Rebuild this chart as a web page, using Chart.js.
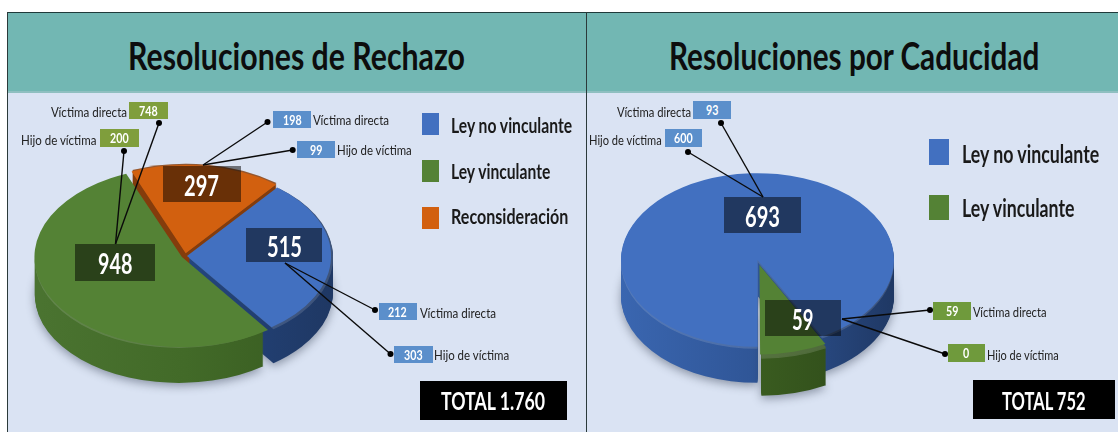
<!DOCTYPE html>
<html lang="es">
<head>
<meta charset="utf-8">
<script src="https://cdn.jsdelivr.net/npm/chart.js@4"></script>
<style>
html,body{margin:0;padding:0;background:#fff;width:1118px;height:432px;overflow:hidden}
#stage{position:relative;width:1118px;height:432px;overflow:hidden}
.abs{position:absolute}
.t{position:absolute;white-space:nowrap;transform-origin:0 50%;font-family:Lato,sans-serif}
canvas{display:block}
</style>
</head>
<body>
<div id="stage"></div>
<script>
// ---- data ----
const rechazoTitle = "Resoluciones de Rechazo";
const caducidadTitle = "Resoluciones por Caducidad";
const rechazoLabels = ["Reconsideración", "Ley no vinculante", "Ley vinculante"];
const rechazoValues = [297, 515, 948];
const rechazoVictima = [198, 212, 748];
const rechazoHijo = [99, 303, 200];
const rechazoTotal = "TOTAL 1.760";
const caducidadLabels = ["Ley no vinculante", "Ley vinculante"];
const caducidadValues = [693, 59];
const caducidadVictima = [93, 59];
const caducidadHijo = [600, 0];
const caducidadTotal = "TOTAL 752";
const victimaText = "Víctima directa";
const hijoText = "Hijo de víctima";

// ---- styles ----
const BLUE = "#4270c0", GREEN = "#548235", ORANGE = "#d2600f";
const LBLUE = "#5b8fcb", OLIVE = "#7f9e3c";
const stage = document.getElementById("stage");
const mc = document.createElement("canvas").getContext("2d");

function rect(x, y, w, h, bg, z) {
  const d = document.createElement("div");
  d.className = "abs";
  d.style.cssText = `left:${x}px;top:${y}px;width:${w}px;height:${h}px;background:${bg};z-index:${z||1}`;
  stage.appendChild(d);
  return d;
}
// text fitted horizontally between x0 and x1, centred vertically on cy
function text(str, x0, x1, cy, size, weight, color) {
  const d = document.createElement("div");
  d.className = "t";
  d.textContent = str;
  const font = `${weight} ${size}px Lato, sans-serif`;
  mc.font = font;
  const m = mc.measureText(str).width;
  const lh = Math.round(size * 1.2);
  d.style.cssText = `left:${x0}px;top:${cy - lh / 2}px;font:${font};line-height:${lh}px;color:${color};z-index:6;transform:scaleX(${((x1 - x0) / m).toFixed(3)})`;
  stage.appendChild(d);
}
function numBox(v, x0, x1, y0, y1, bg, size, tx0, tx1) {
  rect(x0, y0, x1 - x0, y1 - y0, bg, 5);
  const s = String(v);
  const w = tx1 !== undefined ? tx1 - tx0 : 6.2 * s.length;
  const a = tx0 !== undefined ? tx0 : (x0 + x1 - w) / 2;
  text(s, a, a + w, (y0 + y1) / 2, size, 700, "#fff");
}

// ---- panels ----
rect(7, 12, 1111, 420, "#dae3f3", 0);
rect(7, 12, 1111, 80, "#72b7b3", 0);
rect(7, 91, 1111, 2, "#8fbfc0", 0);
rect(7, 12, 1111, 1, "#1f3a3a", 2);
rect(7, 12, 1, 420, "#2b3a3a", 2);
rect(586, 12, 1, 420, "#2b3a3a", 2);

// ---- pie plugin: extrudes the chart's own arc elements and flattens them ----
function shade(chart, el, depth, k, cols) {
  const ctx = chart.ctx, o = (el.options.offset || 0) / 2;
  const mid = (el.startAngle + el.endAngle) / 2;
  const cx = el.x + Math.cos(mid) * o, cy = el.y + Math.sin(mid) * o, r = el.outerRadius;
  const g = ctx.createLinearGradient(el.x - r, 0, el.x + r, 0);
  cols.forEach((c, i) => g.addColorStop(i / (cols.length - 1), c));
  for (let d = depth; d >= 1; d--) {
    ctx.save();
    ctx.translate(0, d);
    ctx.translate(0, el.y);
    ctx.scale(1, k);
    ctx.translate(0, -el.y);
    ctx.beginPath();
    ctx.moveTo(cx, cy);
    ctx.arc(cx, cy, r, el.startAngle, el.endAngle);
    ctx.closePath();
    ctx.fillStyle = g;
    if (d === depth) { ctx.shadowColor = "rgba(40,50,70,.45)"; ctx.shadowBlur = 10; ctx.shadowOffsetY = 3; }
    ctx.fill();
    if (d <= 2) { ctx.fillStyle = "rgba(255,255,255,.14)"; ctx.fill(); }
    ctx.restore();
  }
}
const pie3d = {
  id: "pie3d",
  beforeDatasetsDraw(chart, args, opts) {
    const ctx = chart.ctx, arcs = chart.getDatasetMeta(0).data;
    arcs.forEach((el, i) => shade(chart, el, opts.depths[i], opts.k, opts.sides[i]));
    ctx.save();
    const y = arcs[0].y;
    ctx.translate(0, y);
    ctx.scale(1, opts.k);
    ctx.translate(0, -y);
  },
  afterDatasetsDraw(chart) { chart.ctx.restore(); },
  afterDraw(chart, args, opts) {
    const ctx = chart.ctx;
    ctx.save();
    ctx.translate(-opts.ox, -opts.oy);
    ctx.strokeStyle = "#0a0a0a";
    ctx.fillStyle = "#000";
    ctx.lineWidth = 1.4;
    opts.leaders.forEach(([a, b, c, d]) => {
      ctx.beginPath(); ctx.moveTo(a, b); ctx.lineTo(c, d); ctx.stroke();
      ctx.beginPath(); ctx.arc(a, b, 3, 0, Math.PI * 2); ctx.fill();
    });
    ctx.restore();
  }
};

function pie(x, y, w, h, padR, padB, radius, rotationDeg, labels, values, colors, offsets, sides, k, depths, leaders) {
  const c = document.createElement("canvas");
  c.width = w; c.height = h;
  c.className = "abs";
  c.style.cssText = `left:${x}px;top:${y}px;width:${w}px;height:${h}px;z-index:4`;
  stage.appendChild(c);
  return new Chart(c, {
    type: "pie",
    data: { labels, datasets: [{ data: values, backgroundColor: colors, borderWidth: 0, offset: offsets, clip: false }] },
    options: {
      responsive: false, animation: false, rotation: rotationDeg, radius,
      layout: { padding: { right: padR, bottom: padB } },
      events: [],
      plugins: {
        legend: { display: false }, tooltip: { enabled: false },
        pie3d: { k, depths, sides, leaders, ox: x, oy: y }
      }
    },
    plugins: [pie3d]
  });
}

pie(8, 93, 578, 339, 224, 13, 144, -22, rechazoLabels, rechazoValues,
  [ORANGE, BLUE, GREEN], [18, 8, 14],
  [["#843c0c", "#843c0c"], ["#1f3864", "#24467f", "#1f3864"], ["#4a7330", "#426a28", "#375a20"]],
  0.61, [20, 36, 37],
  [[159,123,115.5,244],[124,151,115.5,244],[267.5,122,203,165],[292.7,150,203,165],[375,310,285,263],[390.5,354,285,263]]);

pie(587, 93, 531, 339, 190, 5, 136.5, 180, caducidadLabels, caducidadValues,
  [BLUE, GREEN], [0, 32],
  [["#3a66b0", "#2f5596", "#1f3864"], ["#3f6324", "#3a5c20", "#2c4718"]],
  0.636, [36, 39],
  [[721,123,763,197],[688,152,763,197],[930,310,842,319],[945,354,842,319]]);

// ---- titles ----
text(rechazoTitle, 128, 465, 55, 38, 700, "#0d0d0d");
text(caducidadTitle, 669, 1040, 55, 38, 700, "#0d0d0d");

// ---- value boxes on the pie ----
const DARK = "rgba(0,0,0,.5)";
numBox(rechazoValues[0], 162.5, 241, 166, 202, DARK, 29, 184, 219);
numBox(rechazoValues[1], 246.4, 322.4, 228, 262, DARK, 29, 267, 302);
numBox(rechazoValues[2], 75, 155.4, 244, 281, DARK, 29, 98, 132.4);
numBox(caducidadValues[0], 724, 800.5, 197, 233, DARK, 29, 745, 780);
numBox(caducidadValues[1], 764.5, 840.6, 300, 336, DARK, 29, 792, 813.4);

// ---- breakdown labels ----
function tag(v, bx0, bx1, by0, by1, bg, label, lx0, lx1, lcy) {
  numBox(v, bx0, bx1, by0, by1, bg, 13);
  text(label, lx0, lx1, lcy, 14, 400, "#222");
}
tag(rechazoVictima[2], 129.4, 168, 102, 119, OLIVE, victimaText, 51, 127, 111);
tag(rechazoHijo[2], 100, 138.5, 129, 147, OLIVE, hijoText, 21.4, 97, 139);
tag(rechazoVictima[0], 272.8, 311, 111, 128, LBLUE, victimaText, 313.4, 389.4, 119);
tag(rechazoHijo[0], 297, 335, 141, 158, LBLUE, hijoText, 337, 412, 149);
tag(rechazoVictima[1], 378.5, 417, 303, 320, LBLUE, victimaText, 419.5, 495.5, 312);
tag(rechazoHijo[1], 394, 432.7, 346, 363, LBLUE, hijoText, 434, 509.4, 354);
tag(caducidadVictima[0], 693, 731, 101, 119, LBLUE, victimaText, 617, 691, 111);
tag(caducidadHijo[0], 664.5, 702, 129, 147, LBLUE, hijoText, 589, 662, 139);
tag(caducidadVictima[1], 933, 971, 302, 320, "#6f9a3c", victimaText, 972.5, 1046, 311);
tag(caducidadHijo[1], 948, 985, 344, 362, "#6f9a3c", hijoText, 987, 1059, 354);

// ---- legends ----
rect(422, 113, 17.4, 22, BLUE, 5); text(rechazoLabels[1], 450.7, 572.6, 125, 20, 700, "#1a1a1a");
rect(422, 160, 17.4, 22, GREEN, 5); text(rechazoLabels[2], 450.7, 550.8, 171, 20, 700, "#1a1a1a");
rect(422, 207, 17.4, 22, ORANGE, 5); text(rechazoLabels[0], 450.7, 568, 216, 20, 700, "#1a1a1a");
rect(929, 139, 20, 26, BLUE, 5); text(caducidadLabels[0], 961.6, 1099.6, 153, 24, 700, "#1a1a1a");
rect(929, 195, 20, 25, GREEN, 5); text(caducidadLabels[1], 961.6, 1075, 207, 24, 700, "#1a1a1a");

// ---- totals ----
rect(419.5, 381, 147.5, 39, "#000", 5); text(rechazoTotal, 441, 545.5, 400, 25, 700, "#fff");
rect(972.5, 380, 142.5, 39, "#000", 5); text(caducidadTotal, 1002, 1086, 400, 25, 700, "#fff");
</script>
</body>
</html>
